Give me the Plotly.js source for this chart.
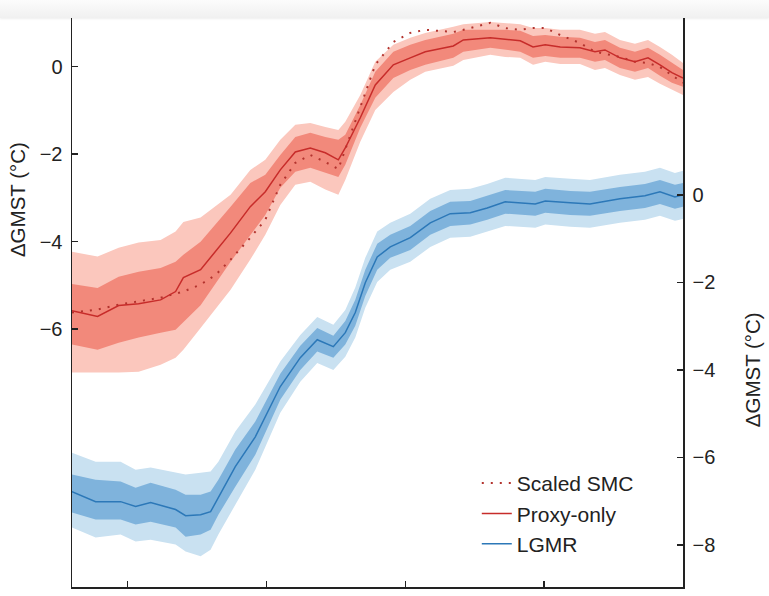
<!DOCTYPE html>
<html><head><meta charset="utf-8">
<script src="https://cdn.plot.ly/plotly-3.0.1.min.js"></script>
<style>
html,body{margin:0;padding:0;background:#fff;overflow:hidden}
#chart{width:769px;height:596px}
#topbar{position:absolute;left:0;top:0;width:769px;height:18px;background:linear-gradient(#fcfcfc,#f0f0f0);box-shadow:0 1px 2px rgba(0,0,0,0.07);z-index:10}
</style></head><body>
<div id="topbar"></div>
<div id="chart"></div>
<script>
// Age (ka), x axis reversed
const xTickVals = [20, 15, 10, 5, 0];
const leftTickVals = [0, -2, -4, -6];
const rightTickVals = [0, -2, -4, -6, -8];
const axisTitle = 'ΔGMST (°C)';

// Proxy-only (left axis)
const redAge = [22.0, 21.08, 20.32, 19.60, 18.81, 18.27, 17.99, 17.37, 16.29, 15.58, 15.04, 14.50, 13.96, 13.42, 12.88, 12.41, 12.16, 11.62, 11.08, 10.43, 9.82, 9.28, 8.27, 7.91, 6.94, 6.40, 5.86, 5.40, 4.96, 4.42, 3.71, 3.17, 2.81, 2.27, 1.73, 1.26, 0.83, 0.40, 0.0];
const proxyMean = [-5.58, -5.71, -5.46, -5.42, -5.33, -5.14, -4.82, -4.64, -3.80, -3.20, -2.86, -2.36, -1.95, -1.86, -1.97, -2.13, -1.86, -1.17, -0.42, 0.04, 0.20, 0.34, 0.47, 0.61, 0.66, 0.63, 0.59, 0.45, 0.50, 0.45, 0.43, 0.34, 0.38, 0.20, 0.11, 0.20, 0.04, -0.14, -0.26];
const proxy1Hi = [-4.97, -5.06, -4.80, -4.69, -4.60, -4.46, -4.30, -4.00, -3.20, -2.66, -2.47, -2.02, -1.61, -1.51, -1.61, -1.67, -1.56, -0.88, -0.12, 0.34, 0.50, 0.61, 0.75, 0.84, 0.84, 0.84, 0.82, 0.70, 0.72, 0.68, 0.66, 0.56, 0.61, 0.43, 0.34, 0.43, 0.27, 0.08, -0.08];
const proxy1Lo = [-6.35, -6.47, -6.31, -6.19, -6.08, -6.01, -5.85, -5.45, -4.46, -3.84, -3.39, -2.77, -2.40, -2.31, -2.43, -2.52, -2.24, -1.40, -0.71, -0.26, -0.08, 0.04, 0.20, 0.34, 0.43, 0.38, 0.34, 0.20, 0.24, 0.20, 0.20, 0.11, 0.15, -0.03, -0.12, -0.03, -0.21, -0.37, -0.46];
const proxy2Hi = [-4.23, -4.34, -4.14, -4.02, -3.96, -3.77, -3.55, -3.45, -2.93, -2.36, -2.13, -1.67, -1.33, -1.29, -1.38, -1.45, -1.26, -0.65, 0.11, 0.50, 0.66, 0.77, 0.91, 0.97, 1.02, 1.00, 0.97, 0.88, 0.88, 0.84, 0.84, 0.75, 0.79, 0.61, 0.52, 0.61, 0.45, 0.27, 0.08];
const proxy2Lo = [-6.99, -6.99, -6.99, -6.97, -6.81, -6.65, -6.47, -5.97, -5.10, -4.41, -3.84, -3.16, -2.70, -2.63, -2.81, -2.93, -2.59, -1.72, -0.99, -0.58, -0.30, -0.12, 0.02, 0.15, 0.27, 0.22, 0.20, 0.04, 0.11, 0.06, 0.06, -0.08, -0.03, -0.19, -0.30, -0.24, -0.39, -0.53, -0.65];

// Scaled SMC (left axis)
const smcAge = [22.0, 21.08, 20.32, 19.60, 18.81, 17.99, 17.37, 16.83, 16.29, 15.58, 15.04, 14.50, 13.96, 13.42, 12.88, 12.41, 12.16, 11.62, 11.08, 10.43, 9.82, 9.28, 8.27, 7.91, 6.94, 6.40, 5.86, 5.40, 4.96, 4.42, 3.71, 3.17, 2.27, 1.73, 1.26, 0.83, 0.0];
const smcVal = [-5.62, -5.55, -5.44, -5.37, -5.28, -5.14, -4.98, -4.76, -4.41, -3.91, -3.50, -2.70, -2.20, -2.02, -2.18, -2.34, -1.90, -0.94, 0.04, 0.56, 0.77, 0.84, 0.79, 0.84, 1.00, 0.88, 0.84, 0.88, 0.88, 0.72, 0.54, 0.34, 0.22, 0.11, 0.08, -0.01, -0.37];

// LGMR (right axis)
const lgmrAge = [22.0, 21.15, 20.25, 19.71, 19.17, 18.27, 17.91, 17.37, 17.01, 16.73, 16.12, 15.40, 14.50, 13.78, 13.17, 12.59, 12.16, 11.80, 11.44, 11.01, 10.54, 9.82, 9.10, 8.38, 7.66, 7.05, 6.40, 5.32, 4.96, 4.06, 3.35, 2.27, 1.37, 0.83, 0.29, 0.0];
const lgmrMean = [-6.78, -7.01, -7.01, -7.12, -7.03, -7.19, -7.33, -7.31, -7.24, -6.92, -6.21, -5.53, -4.38, -3.72, -3.31, -3.47, -3.15, -2.69, -2.01, -1.42, -1.19, -0.98, -0.64, -0.43, -0.41, -0.30, -0.16, -0.21, -0.14, -0.18, -0.21, -0.09, -0.02, 0.07, -0.05, 0.00];
const lgmr1Hi = [-6.39, -6.51, -6.55, -6.69, -6.58, -6.74, -6.85, -6.85, -6.78, -6.51, -5.82, -5.18, -4.09, -3.45, -3.04, -3.22, -2.88, -2.40, -1.71, -1.12, -0.91, -0.71, -0.37, -0.16, -0.14, -0.02, 0.11, 0.07, 0.14, 0.09, 0.07, 0.18, 0.25, 0.34, 0.23, 0.27];
const lgmr1Lo = [-7.26, -7.42, -7.42, -7.53, -7.47, -7.60, -7.81, -7.76, -7.65, -7.31, -6.67, -5.94, -4.68, -4.00, -3.58, -3.72, -3.42, -2.99, -2.31, -1.71, -1.44, -1.26, -0.91, -0.71, -0.68, -0.57, -0.43, -0.48, -0.41, -0.46, -0.48, -0.37, -0.30, -0.21, -0.32, -0.27];
const lgmr2Hi = [-5.89, -6.10, -6.10, -6.28, -6.23, -6.35, -6.39, -6.35, -6.32, -6.10, -5.41, -4.79, -3.81, -3.20, -2.79, -2.97, -2.63, -2.12, -1.44, -0.84, -0.64, -0.43, -0.09, 0.11, 0.14, 0.25, 0.39, 0.34, 0.41, 0.37, 0.34, 0.46, 0.53, 0.62, 0.50, 0.55];
const lgmr2Lo = [-7.60, -7.83, -7.76, -7.92, -7.88, -7.99, -8.15, -8.26, -8.11, -7.76, -7.08, -6.28, -4.98, -4.27, -3.84, -4.00, -3.70, -3.26, -2.58, -1.99, -1.71, -1.53, -1.19, -0.98, -0.96, -0.84, -0.71, -0.75, -0.68, -0.73, -0.75, -0.64, -0.57, -0.48, -0.59, -0.55];

function band(x, hi, lo, color, yaxis) {
  return {
    x: x.concat(x.slice().reverse()),
    y: hi.concat(lo.slice().reverse()),
    type: 'scatter', mode: 'lines', fill: 'toself', fillcolor: color,
    line: {width: 0, color: color}, hoverinfo: 'skip', showlegend: false, yaxis: yaxis
  };
}

const data = [
  band(lgmrAge, lgmr2Hi, lgmr2Lo, '#c9e1f1', 'y2'),
  band(lgmrAge, lgmr1Hi, lgmr1Lo, '#7fb3dc', 'y2'),
  band(redAge, proxy2Hi, proxy2Lo, '#fbc7bd', 'y'),
  band(redAge, proxy1Hi, proxy1Lo, '#f2897b', 'y'),
  {x: smcAge, y: smcVal, type: 'scatter', mode: 'lines', name: 'Scaled SMC',
   line: {color: '#b3332e', width: 2, dash: '2px,7px'}, yaxis: 'y'},
  {x: redAge, y: proxyMean, type: 'scatter', mode: 'lines', name: 'Proxy-only',
   line: {color: '#c72c2a', width: 1.5}, yaxis: 'y'},
  {x: lgmrAge, y: lgmrMean, type: 'scatter', mode: 'lines', name: 'LGMR',
   line: {color: '#2c78b8', width: 1.5}, yaxis: 'y2'}
];

const font = {family: 'Liberation Sans, Arial, sans-serif', color: '#222'};

const layout = {
  width: 769, height: 596,
  margin: {l: 72, r: 86, t: 18, b: 9},
  paper_bgcolor: '#fff', plot_bgcolor: '#fff',
  font: Object.assign({size: 18}, font),
  showlegend: true,
  legend: {x: 0.6625, y: 0.218, xanchor: 'left', yanchor: 'top', bgcolor: 'rgba(0,0,0,0)',
           font: Object.assign({size: 21}, font)},
  xaxis: {range: [22, 0], tickvals: xTickVals, showticklabels: false, ticks: 'inside', ticklen: 6,
          tickwidth: 1.5, tickcolor: '#222', showline: true, linecolor: '#222', linewidth: 1.5,
          showgrid: false, zeroline: false},
  yaxis: {range: [-11.89, 1.11], tickvals: leftTickVals, ticks: 'inside', ticklen: 6, tickwidth: 1.5,
          tickcolor: '#222', showline: true, linecolor: '#222', linewidth: 1.5, showgrid: false,
          zeroline: false, tickfont: Object.assign({size: 20}, font), ticklabelstandoff: 4},
  yaxis2: {range: [-8.96, 4.04], overlaying: 'y', side: 'right', tickvals: rightTickVals,
           ticks: 'inside', ticklen: 6, tickwidth: 1.5, tickcolor: '#222', showline: true,
           linecolor: '#222', linewidth: 1.5, showgrid: false, zeroline: false,
           tickfont: Object.assign({size: 20}, font), ticklabelstandoff: 4},
  annotations: [
    {text: axisTitle, xref: 'paper', yref: 'paper', x: -0.09, y: 0.68, xanchor: 'center', yanchor: 'middle',
     textangle: -90, showarrow: false, font: Object.assign({size: 20.5}, font)},
    {text: axisTitle, xref: 'paper', yref: 'paper', x: 1.113, y: 0.381, xanchor: 'center', yanchor: 'middle',
     textangle: -90, showarrow: false, font: Object.assign({size: 20.5}, font)}
  ]
};

Plotly.newPlot('chart', data, layout, {staticPlot: true, displayModeBar: false});
</script>
</body></html>
